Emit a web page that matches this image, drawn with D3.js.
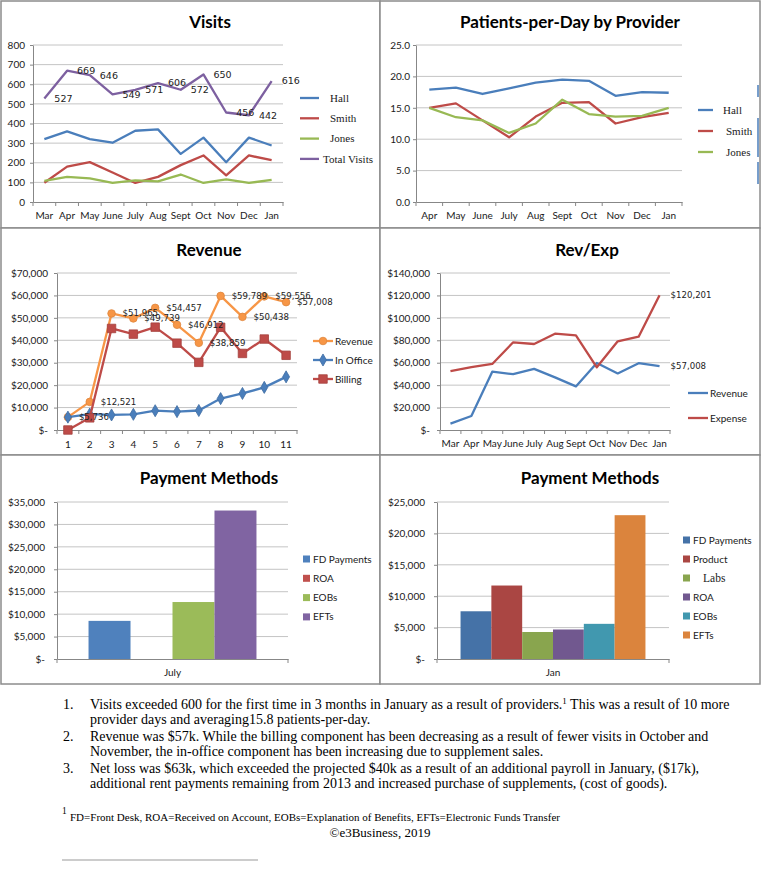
<!DOCTYPE html>
<html>
<head>
<meta charset="utf-8">
<script src="https://cdn.jsdelivr.net/npm/d3@7"></script>
<style>
  body { margin: 0; background: #fff; }
</style>
</head>
<body>
<script>
// ---- data ----
const months11 = ["Mar", "Apr", "May", "June", "July", "Aug", "Sept", "Oct", "Nov", "Dec", "Jan"];
const visitsHall = [320, 360, 320, 302, 363, 370, 245, 328, 203, 328, 288];
const visitsSmith = [98, 180, 203, 150, 97, 128, 188, 237, 136, 237, 213];
const visitsJones = [108, 128, 120, 97, 110, 105, 140, 97, 115, 97, 113];
const visitsTotal = [527, 669, 646, 549, 571, 606, 572, 650, 456, 442, 616];
const visitsTicks = [0, 100, 200, 300, 400, 500, 600, 700, 800];

const months10 = ["Apr", "May", "June", "July", "Aug", "Sept", "Oct", "Nov", "Dec", "Jan"];
const ppdHall = [17.9, 18.2, 17.2, 18.1, 19.0, 19.5, 19.3, 16.9, 17.5, 17.4];
const ppdSmith = [15.0, 15.7, 13.0, 10.3, 13.6, 15.8, 15.9, 12.5, 13.5, 14.2];
const ppdJones = [15.0, 13.5, 13.0, 11.0, 12.5, 16.3, 14.0, 13.6, 13.7, 15.0];
const ppdTicks = [0, 5, 10, 15, 20, 25];

const periods = ["1", "2", "3", "4", "5", "6", "7", "8", "9", "10", "11"];
const revenue = [5736, 12521, 51965, 49739, 54457, 46912, 38859, 59789, 50438, 59556, 57008];
const inOffice = [5736, 7100, 6700, 7000, 8600, 8200, 8700, 14000, 16300, 19000, 23700];
const billing = [0, 5421, 45265, 42739, 45857, 38712, 30159, 45789, 34138, 40556, 33308];
const revenueTicks = [0, 10000, 20000, 30000, 40000, 50000, 60000, 70000];

const expense = [52600, 56000, 58900, 78200, 76700, 85900, 84400, 55900, 79100, 83200, 120201];
const revExpTicks = [0, 20000, 40000, 60000, 80000, 100000, 120000, 140000];

const julyMethods = ["FD Payments", "ROA", "EOBs", "EFTs"];
const julyAmounts = [8500, 0, 12700, 33100];
const julyTicks = [0, 5000, 10000, 15000, 20000, 25000, 30000, 35000];

const janMethods = ["FD Payments", "Product", "Labs", "ROA", "EOBs", "EFTs"];
const janAmounts = [7600, 11700, 4300, 4700, 5600, 22900];
const janTicks = [0, 5000, 10000, 15000, 20000, 25000];

const notes = [
  ["1.", "Visits exceeded 600 for the first time in 3 months in January as a result of providers.", "1", " This was a result of 10 more"],
  ["", "provider days and averaging15.8 patients-per-day."],
  ["2.", "Revenue was $57k. While the billing component has been decreasing as a result of fewer visits in October and"],
  ["", "November, the in-office component has been increasing due to supplement sales."],
  ["3.", "Net loss was $63k, which exceeded the projected $40k as a result of an additional payroll in January, ($17k),"],
  ["", "additional rent payments remaining from 2013 and increased purchase of supplements, (cost of goods)."]
];
const footnote = "FD=Front Desk, ROA=Received on Account, EOBs=Explanation of Benefits, EFTs=Electronic Funds Transfer";
const copyright = "\u00A9e3Business, 2019";

// ---- styles ----
const SANS = "Lato, 'Open Sans', sans-serif";
const SERIF = "'Liberation Serif', 'Times New Roman', serif";
const LBL = "'DejaVu Sans', sans-serif";
const GRID = "#c4c4c4", AXIS = "#878787", INK = "#1a1a1a";

const money = v => v === 0 ? "$-" : d3.format("$,")(v);

const svg = d3.select("body").append("svg")
  .attr("width", 768).attr("height", 886)
  .style("font-family", SANS);

function frame(x, y, w, h) {
  svg.append("rect").attr("x", x).attr("y", y).attr("width", w).attr("height", h)
    .attr("fill", "#fff").attr("stroke", "#8c8c8c").attr("stroke-width", 1.5);
}

function title(txt, cx, y) {
  svg.append("text").attr("x", cx).attr("y", y).attr("text-anchor", "middle")
    .attr("font-family", SANS).attr("font-weight", 700).attr("font-size", 17)
    .attr("fill", "#000").text(txt);
}

// gridlines + y axis + x axis with ticks between categories
function axes(c, x, y) {
  svg.append("g").selectAll("line").data(c.ticks.slice(1)).join("line")
    .attr("x1", c.left).attr("x2", c.right)
    .attr("y1", d => y(d)).attr("y2", d => y(d))
    .attr("stroke", GRID).attr("stroke-width", 1);

  const ya = svg.append("g").attr("transform", `translate(${c.left},0)`)
    .call(d3.axisLeft(y).tickValues(c.ticks).tickFormat(c.fmt)
      .tickSize(3).tickSizeOuter(0).tickPadding(c.yPad));
  const xa = svg.append("g").attr("transform", `translate(0,${c.bottom})`)
    .call(d3.axisBottom(x).tickSize(0).tickSizeOuter(0).tickPadding(c.xPad));

  svg.append("g").selectAll("line").data(d3.range(c.cats.length + 1)).join("line")
    .attr("x1", i => c.left + i * x.step()).attr("x2", i => c.left + i * x.step())
    .attr("y1", c.bottom).attr("y2", c.bottom + 4)
    .attr("stroke", AXIS);

  [ya, xa].forEach(g => {
    g.attr("font-family", SANS).attr("font-size", 10);
    g.selectAll("path, line").attr("stroke", AXIS);
    g.selectAll("text").attr("fill", INK);
  });
}

function marker(g, type, color, size) {
  if (type === "circle") return g.append("circle").attr("r", size).attr("fill", color)
    .attr("stroke", d3.color(color).darker(0.3)).attr("stroke-width", 0.8);
  const sym = type === "diamond" ? d3.symbolDiamond : d3.symbolSquare;
  return g.append("path").attr("d", d3.symbol(sym, size)()).attr("fill", color)
    .attr("stroke", d3.color(color).darker(0.4)).attr("stroke-width", 0.8);
}

function lineChart(c) {
  const x = d3.scaleBand().domain(c.cats).range([c.left, c.right]);
  const y = d3.scaleLinear().domain([0, d3.max(c.ticks)]).range([c.bottom, c.top]);
  const px = i => x(c.cats[i]) + x.bandwidth() / 2;
  axes(c, x, y);

  c.series.forEach(s => {
    svg.append("path").datum(s.values)
      .attr("d", d3.line().x((d, i) => px(i)).y(d => y(d)))
      .attr("fill", "none").attr("stroke", s.color).attr("stroke-width", 2.3)
      .attr("stroke-linejoin", "round");
    if (s.marker) {
      s.values.forEach((v, i) => {
        const g = svg.append("g").attr("transform", `translate(${px(i)},${y(v)})`);
        marker(g, s.marker, s.color, s.msize);
      });
    }
  });

  c.series.filter(s => s.label).forEach(s => {
    const idx = s.label === "last" ? [s.values.length - 1] : d3.range(s.values.length);
    svg.append("g").selectAll("text").data(idx).join("text")
      .attr("x", i => px(i) + c.labelDx)
      .attr("y", i => y(s.values[i]))
      .attr("dy", "0.35em")
      .attr("font-family", LBL).attr("font-size", c.labelSize).attr("fill", "#222")
      .text(i => s.fmt(s.values[i]));
  });

  const L = c.legend;
  c.series.forEach((s, i) => {
    const ly = L.y0 + i * L.dy;
    svg.append("line").attr("x1", L.x1).attr("x2", L.x2).attr("y1", ly).attr("y2", ly)
      .attr("stroke", s.color).attr("stroke-width", 2.3);
    if (s.marker) {
      const g = svg.append("g").attr("transform", `translate(${(L.x1 + L.x2) / 2},${ly})`);
      marker(g, s.marker, s.color, s.msize);
    }
    svg.append("text").attr("x", L.tx + (s.ldx || 0)).attr("y", ly).attr("dy", "0.35em")
      .attr("font-family", L.font).attr("font-size", L.size).attr("fill", INK)
      .text(s.name);
  });
}

function barChart(c) {
  const x = d3.scaleBand().domain(c.cats).range([c.left, c.right]);
  const y = d3.scaleLinear().domain([0, d3.max(c.ticks)]).range([c.bottom, c.top]);
  axes(c, x, y);
  const cw = x.bandwidth() * c.cluster;
  const cx = x(c.cats[0]) + x.bandwidth() / 2;
  const x1 = d3.scaleBand().domain(c.names).range([cx - cw / 2, cx + cw / 2]);
  const rows = d3.zip(c.names, c.values, c.colors);

  svg.append("g").selectAll("rect").data(rows).join("rect")
    .attr("x", d => x1(d[0])).attr("width", x1.bandwidth())
    .attr("y", d => y(d[1])).attr("height", d => c.bottom - y(d[1]))
    .attr("fill", d => d[2]);

  const L = c.legend;
  rows.forEach((d, i) => {
    const ly = L.y0 + i * L.dy;
    svg.append("rect").attr("x", L.mx).attr("y", ly - 3.5).attr("width", 7).attr("height", 7)
      .attr("fill", d[2]);
    const serif = (c.serifNames || []).includes(d[0]);
    svg.append("text").attr("x", L.tx + (serif ? 10 : 0)).attr("y", ly).attr("dy", "0.35em")
      .attr("font-family", serif ? SERIF : SANS).attr("font-size", serif ? 11.5 : 10)
      .attr("fill", INK).text(d[0]);
  });
}

// ---- panels ----
frame(1, 1, 379, 227);
frame(380, 1, 380, 227);
frame(1, 228, 379, 227);
frame(380, 228, 380, 227);
frame(1, 455, 379, 229);
frame(380, 455, 380, 229);

// Visits
title("Visits", 210, 28);
lineChart({
  cats: months11, ticks: visitsTicks, fmt: d3.format("d"),
  left: 33, right: 283, top: 45, bottom: 202, yPad: 5, xPad: 10,
  labelDx: 10, labelSize: 9.5,
  series: [
    { name: "Hall", values: visitsHall, color: "#4a7ebb", ldx: 7 },
    { name: "Smith", values: visitsSmith, color: "#be4b48", ldx: 7 },
    { name: "Jones", values: visitsJones, color: "#98b954", ldx: 7 },
    { name: "Total Visits", values: visitsTotal, color: "#7d60a0", label: "all", fmt: d3.format("d") }
  ],
  legend: { x1: 300, x2: 319, tx: 323, y0: 98, dy: 20.3, font: SERIF, size: 11 }
});

// Patients-per-Day by Provider
title("Patients-per-Day by Provider", 570, 28);
lineChart({
  cats: months10, ticks: ppdTicks, fmt: d3.format(".1f"),
  left: 416, right: 682, top: 45, bottom: 202, yPad: 3, xPad: 10,
  series: [
    { name: "Hall", values: ppdHall, color: "#4a7ebb" },
    { name: "Smith", values: ppdSmith, color: "#be4b48", ldx: 3 },
    { name: "Jones", values: ppdJones, color: "#98b954", ldx: 3 }
  ],
  legend: { x1: 698, x2: 713, tx: 723, y0: 110, dy: 21, font: SERIF, size: 11 }
});
// stray blue marks at the right edge of the panel
svg.append("g").selectAll("line").data([[85, 97], [118, 157], [162, 184]]).join("line")
  .attr("x1", 758).attr("x2", 758).attr("y1", d => d[0]).attr("y2", d => d[1])
  .attr("stroke", "#4a7ebb").attr("stroke-width", 1.5);

// Revenue
title("Revenue", 209, 256);
lineChart({
  cats: periods, ticks: revenueTicks, fmt: money,
  left: 57, right: 297, top: 273, bottom: 430, yPad: 6, xPad: 11,
  labelDx: 11, labelSize: 8.6,
  series: [
    { name: "Revenue", values: revenue, color: "#f79646", marker: "circle", msize: 3.8, label: "all", fmt: d3.format("$,") },
    { name: "In Office", values: inOffice, color: "#4a7ebb", marker: "diamond", msize: 42 },
    { name: "Billing", values: billing, color: "#be4b48", marker: "square", msize: 72 }
  ],
  legend: { x1: 313, x2: 333, tx: 335, y0: 341, dy: 19, font: SANS, size: 10 }
});

// Rev/Exp
title("Rev/Exp", 587, 256);
lineChart({
  cats: months11, ticks: revExpTicks, fmt: money,
  left: 440, right: 670, top: 273, bottom: 430, yPad: 7, xPad: 10,
  labelDx: 11, labelSize: 8.6,
  series: [
    { name: "Revenue", values: revenue, color: "#4a7ebb", label: "last", fmt: d3.format("$,") },
    { name: "Expense", values: expense, color: "#be4b48", label: "last", fmt: d3.format("$,") }
  ],
  legend: { x1: 688, x2: 708, tx: 710, y0: 393, dy: 25, font: SANS, size: 10 }
});

// Payment Methods - July
title("Payment Methods", 209, 484);
barChart({
  cats: ["July"], ticks: julyTicks, fmt: money,
  left: 57, right: 288, top: 502, bottom: 659, yPad: 9, xPad: 10, cluster: 0.727,
  names: julyMethods, values: julyAmounts,
  colors: ["#4f81bd", "#c0504d", "#9bbb59", "#8064a2"],
  legend: { mx: 303, tx: 313, y0: 559, dy: 19.3 }
});

// Payment Methods - Jan
title("Payment Methods", 590, 484);
barChart({
  cats: ["Jan"], ticks: janTicks, fmt: money,
  left: 437, right: 669, top: 502, bottom: 659, yPad: 9, xPad: 10, cluster: 0.797,
  names: janMethods, values: janAmounts,
  colors: ["#4572a7", "#aa4643", "#89a54e", "#71588f", "#4198af", "#db843d"],
  serifNames: ["Labs"],
  legend: { mx: 683, tx: 693, y0: 540, dy: 19 }
});

// ---- notes below the charts ----
const noteY = [709, 724, 741, 756, 773, 788];
const NOTE_SIZE = 14;
notes.forEach((n, i) => {
  if (n[0]) svg.append("text").attr("x", 63).attr("y", noteY[i])
    .attr("font-family", SERIF).attr("font-size", NOTE_SIZE).attr("fill", "#000").text(n[0]);
  const t = svg.append("text").attr("x", 90).attr("y", noteY[i])
    .attr("font-family", SERIF).attr("font-size", NOTE_SIZE).attr("fill", "#000");
  t.append("tspan").text(n[1]);
  if (n[2]) {
    t.append("tspan").attr("dy", -5).attr("font-size", 9).text(n[2]);
    t.append("tspan").attr("dy", 5).text(n[3]);
  }
});

svg.append("text").attr("x", 62).attr("y", 814)
  .attr("font-family", SERIF).attr("font-size", 9.5).attr("fill", "#000").text("1");
svg.append("text").attr("x", 70).attr("y", 821)
  .attr("font-family", SERIF).attr("font-size", 11).attr("fill", "#000").text(footnote);
svg.append("text").attr("x", 380).attr("y", 837).attr("text-anchor", "middle")
  .attr("font-family", SERIF).attr("font-size", 13).attr("fill", "#000").text(copyright);
svg.append("line").attr("x1", 62).attr("x2", 258).attr("y1", 860).attr("y2", 860)
  .attr("stroke", "#999").attr("stroke-width", 1.2);
</script>
</body>
</html>
